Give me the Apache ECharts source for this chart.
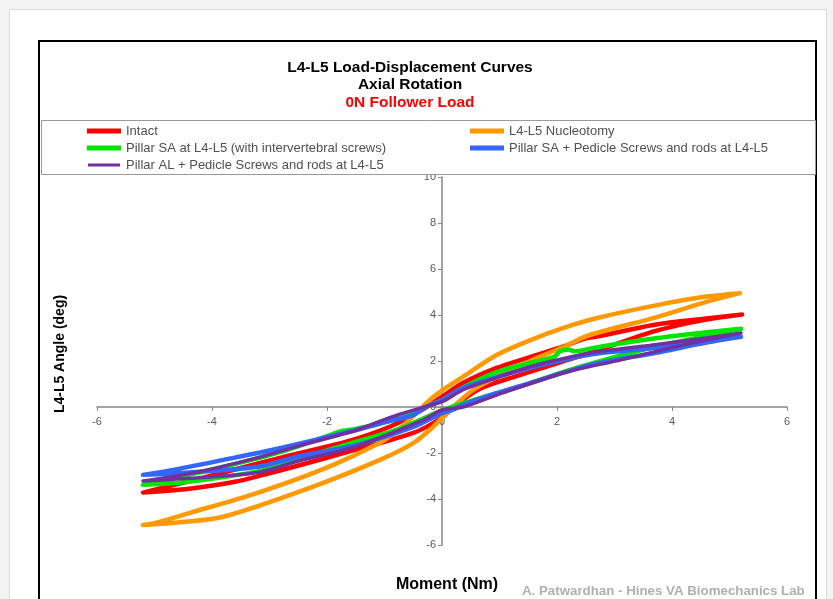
<!DOCTYPE html>
<html>
<head>
<meta charset="utf-8">
<script src="https://cdn.jsdelivr.net/npm/echarts@6/dist/echarts.min.js"></script>
<style>
  html, body { margin: 0; padding: 0; background: #f3f3f3; }
  .panel { position: absolute; left: 9px; top: 9px; width: 816px; height: 620px; background: #fff; border: 1px solid #dcdcdc; }
  .frame { position: absolute; left: 38px; top: 40px; width: 779px; height: 600px; border: 2px solid #000; box-sizing: border-box; }
  #main { position: absolute; left: 0; top: 0; width: 833px; height: 599px; }
</style>
</head>
<body>
<div class="panel"></div>
<div class="frame"></div>
<div id="main"></div>
<script>
// load-displacement loops: [moment (Nm), angle (deg)], upper branch then lower branch
const intact = [
  [5.22, 4.02], [4.6, 3.85], [3.7, 3.58], [2.7, 3.06], [2.5, 2.98], [2.1, 2.62], [1.53, 2.17], [0.95, 1.7],
  [0.37, 1.05], [0, 0.45], [-0.33, -0.1], [-0.9, -0.85], [-1.65, -1.5], [-2.8, -2.2], [-3.8, -2.85],
  [-4.6, -3.35], [-5.2, -3.72],
  [-4.4, -3.55], [-3.6, -3.25], [-2.8, -2.75], [-1.65, -1.96], [-0.5, -1.13], [-0.03, -0.5], [0.3, 0.2],
  [0.66, 0.8], [1.24, 1.3], [2.0, 1.9], [2.7, 2.45], [3.7, 3.3], [4.6, 3.8], [5.22, 4.02]
];
const nucleotomy = [
  [5.18, 4.95], [4.6, 4.8], [3.74, 4.43], [2.7, 3.87], [2.1, 3.43], [1.53, 2.9], [0.95, 2.26], [0.37, 1.32],
  [0, 0.72], [-0.26, 0.2], [-0.5, -0.4], [-0.79, -1.05], [-1.08, -1.55], [-2.07, -2.7], [-3.22, -3.74],
  [-4.38, -4.6], [-5.0, -5.05], [-5.2, -5.13],
  [-4.6, -5.02], [-3.8, -4.77], [-2.24, -3.46], [-1.08, -2.3], [-0.5, -1.57], [-0.15, -0.85], [0.15, -0.1],
  [0.54, 0.74], [0.95, 1.3], [1.53, 2.0], [2.1, 2.6], [2.57, 3.13], [3.74, 3.91], [4.6, 4.57], [5.18, 4.95]
];
const pillarSA = [
  [5.2, 3.4], [4.6, 3.25], [3.74, 3.0], [2.7, 2.6], [2.3, 2.42], [2.2, 2.5], [2.05, 2.42], [1.95, 2.18],
  [1.53, 1.92], [0.95, 1.52], [0.37, 0.85], [0, 0.3], [-0.33, -0.05], [-0.9, -0.6], [-1.6, -1.0],
  [-1.75, -1.05], [-1.95, -1.22], [-2.8, -1.95], [-3.8, -2.6], [-4.6, -3.05], [-5.2, -3.38],
  [-4.4, -3.25], [-3.2, -2.8], [-2.8, -2.5], [-1.48, -1.5], [-0.8, -1.0], [-0.33, -0.5], [0, -0.15],
  [0.37, 0.17], [0.95, 0.6], [1.53, 1.04], [2.1, 1.52], [2.7, 1.96], [3.67, 2.6], [4.6, 3.1], [5.2, 3.4]
];
const pillarSAPedicle = [
  [5.2, 3.05], [4.6, 2.85], [3.67, 2.56], [2.7, 2.33], [2.1, 2.04], [1.53, 1.7], [0.95, 1.3], [0.37, 0.83],
  [0, 0.3], [-0.3, -0.02], [-0.5, -0.35], [-0.9, -0.6], [-1.65, -1.1], [-2.8, -1.78], [-3.8, -2.3],
  [-4.6, -2.7], [-5.2, -2.95],
  [-4.4, -2.85], [-3.2, -2.6], [-2.5, -2.15], [-1.48, -1.65], [-0.5, -0.87], [-0.03, -0.3], [0.2, -0.1],
  [0.37, 0.1], [0.95, 0.6], [1.53, 1.04], [2.1, 1.48], [2.7, 1.9], [3.7, 2.35], [4.6, 2.8], [5.2, 3.05]
];
const pillarALPedicle = [
  [5.2, 3.22], [4.6, 3.0], [3.67, 2.7], [2.7, 2.4], [2.1, 2.1], [1.53, 1.75], [0.95, 1.27], [0.37, 0.75],
  [0, 0.23], [-0.38, -0.05], [-0.9, -0.45], [-1.48, -1.0], [-2.5, -1.7], [-3.2, -2.2], [-4.2, -2.8], [-5.2, -3.22],
  [-4.4, -3.1], [-3.2, -2.85], [-2.5, -2.35], [-1.48, -1.7], [-0.33, -0.57], [0, -0.13], [0.37, 0.0],
  [0.95, 0.52], [2.1, 1.48], [2.7, 1.83], [3.1, 2.04], [4.2, 2.7], [5.2, 3.22]
];
const seriesNames = [
  'Intact',
  'L4-L5 Nucleotomy',
  'Pillar SA at L4-L5 (with intervertebral screws)',
  'Pillar SA + Pedicle Screws and rods at L4-L5',
  'Pillar AL + Pedicle Screws and rods at L4-L5'
];
const seriesData = [intact, nucleotomy, pillarSA, pillarSAPedicle, pillarALPedicle];
const seriesColors = ['#ff0000', '#ff9900', '#00e600', '#3366ff', '#7030a0'];
const seriesWidths = [4.5, 4.5, 4.5, 4.5, 3.5];
const xTicks = { min: -6, max: 6, step: 2 };
const yTicks = { min: -6, max: 10, step: 2 };

const chart = echarts.init(document.getElementById('main'));
const axisColor = '#868686';
const labelColor = '#595959';
const font = 'Liberation Sans, Arial, sans-serif';

// grid box and where the zero lines fall inside it
const grid = { left: 97, right: 46, top: 177, bottom: 54 };
const plotW = 833 - grid.left - grid.right;
const plotH = 599 - grid.top - grid.bottom;
const yAxisShift = -plotW * (0 - xTicks.min) / (xTicks.max - xTicks.min);
const xAxisShift = -plotH * (0 - yTicks.min) / (yTicks.max - yTicks.min);

function legendBlock(left, names) {
  return {
    z: 20, left: left, top: 124, padding: 0, orient: 'vertical', itemGap: 3,
    itemWidth: 34, itemHeight: 5, icon: 'rect',
    textStyle: { fontSize: 13, color: '#505050', lineHeight: 14, fontFamily: font },
    data: names.map(n => n === seriesNames[4]
      ? { name: n, itemStyle: { borderColor: '#fff', borderWidth: 2 } }
      : { name: n })
  };
}

const option = {
  animation: false,
  backgroundColor: 'transparent',
  textStyle: { fontFamily: font },
  graphic: [
    { type: 'rect', z: 10, shape: { x: 41.5, y: 120.5, width: 774, height: 54 },
      style: { fill: '#fff', stroke: '#9a9a9a', lineWidth: 1 } },
    { type: 'text', z: 10, x: 410, y: 67.5, style: { text: 'L4-L5 Load-Displacement Curves', align: 'center', verticalAlign: 'middle', font: 'bold 15.5px ' + font, fill: '#000' } },
    { type: 'text', z: 10, x: 410, y: 85, style: { text: 'Axial Rotation', align: 'center', verticalAlign: 'middle', font: 'bold 15.5px ' + font, fill: '#000' } },
    { type: 'text', z: 10, x: 410, y: 102.5, style: { text: '0N Follower Load', align: 'center', verticalAlign: 'middle', font: 'bold 15.5px ' + font, fill: '#ff0000' } },
    { type: 'text', z: 10, x: 60, y: 354, rotation: Math.PI / 2, style: { text: 'L4-L5 Angle (deg)', align: 'center', verticalAlign: 'middle', font: 'bold 14px ' + font, fill: '#000' } },
    { type: 'text', z: 10, x: 447, y: 585, style: { text: 'Moment (Nm)', align: 'center', verticalAlign: 'middle', font: 'bold 16px ' + font, fill: '#000' } },
    { type: 'text', z: 10, x: 522, y: 591, style: { text: 'A. Patwardhan - Hines VA Biomechanics Lab', align: 'left', verticalAlign: 'middle', font: 'bold 13.3px ' + font, fill: '#b0b0b0' } }
  ],
  legend: [
    legendBlock(86, [seriesNames[0], seriesNames[2], seriesNames[4]]),
    legendBlock(470, [seriesNames[1], seriesNames[3]])
  ],
  grid: grid,
  xAxis: {
    type: 'value', min: xTicks.min, max: xTicks.max, interval: xTicks.step,
    position: 'bottom', offset: xAxisShift,
    axisLine: { onZero: false, lineStyle: { color: axisColor, width: 1.5 } },
    axisTick: { length: 4, lineStyle: { color: axisColor } },
    axisLabel: { color: labelColor, fontSize: 11, margin: 9 },
    splitLine: { show: false }
  },
  yAxis: {
    type: 'value', min: yTicks.min, max: yTicks.max, interval: yTicks.step,
    position: 'left', offset: yAxisShift,
    axisLine: { onZero: false, lineStyle: { color: axisColor, width: 1.5 } },
    axisTick: { length: 4, lineStyle: { color: axisColor } },
    axisLabel: { color: labelColor, fontSize: 11, margin: 6 },
    splitLine: { show: false }
  },
  series: seriesNames.map((name, i) => ({
    name: name,
    type: 'line',
    data: seriesData[i],
    smooth: 0.3,
    symbol: 'none',
    color: seriesColors[i],
    lineStyle: { color: seriesColors[i], width: seriesWidths[i], cap: 'round', join: 'round' }
  }))
};
chart.setOption(option);
</script>
</body>
</html>
